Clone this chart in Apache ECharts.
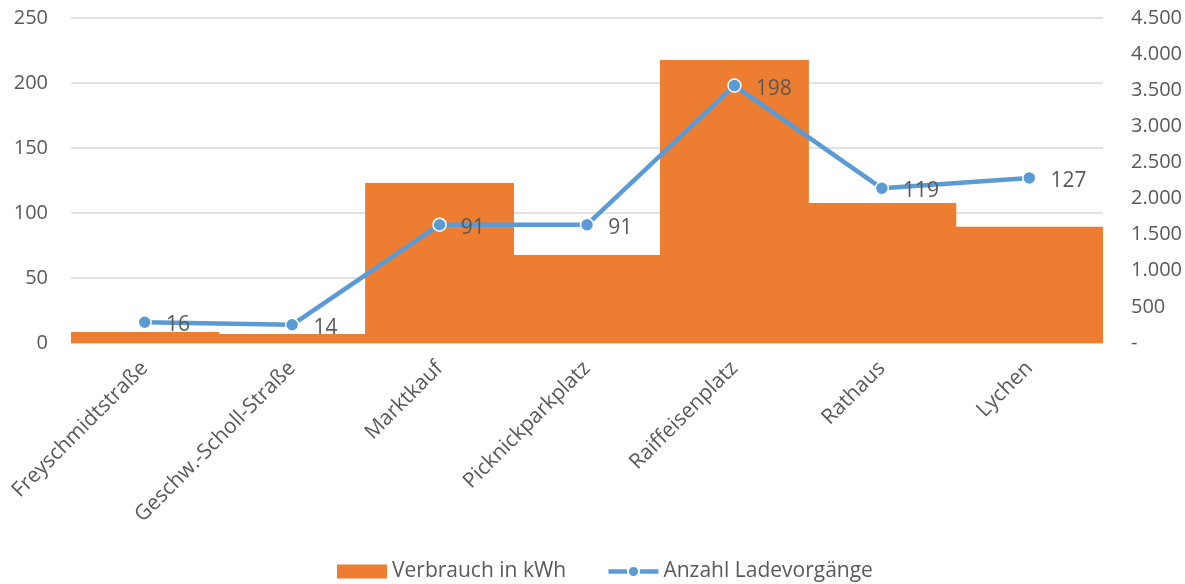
<!DOCTYPE html>
<html>
<head>
<meta charset="utf-8">
<script src="https://cdn.jsdelivr.net/npm/echarts@6/dist/echarts.min.js"></script>
<style>
html, body { margin: 0; padding: 0; background: #fff; }
#chart { width: 1185px; height: 584px; }
</style>
</head>
<body>
<div id="chart"></div>
<script>
// Standorte
const categories = ['Freyschmidtstraße', 'Geschw.-Scholl-Straße', 'Marktkauf', 'Picknickparkplatz', 'Raiffeisenplatz', 'Rathaus', 'Lychen']
// Verbrauch in kWh (rechte Achse)
const verbrauch = [152, 125, 2215, 1218, 3918, 1938, 1611]
// Anzahl Ladevorgänge (linke Achse)
const ladevorgaenge = [16, 14, 91, 91, 198, 119, 127]

const textColor = '#595959'
const fontFamily = '"Open Sans", "Noto Sans", sans-serif'

const myChart = echarts.init(document.getElementById('chart'))

const option = {
    animation: false,
    textStyle: { fontFamily: fontFamily },
    grid: {
        left: 71,
        right: 82,
        top: 18,
        bottom: 241
    },
    legend: {
        top: 561,
        left: 337,
        padding: 0,
        itemGap: 40,
        itemWidth: 50,
        itemHeight: 14,
        textStyle: { color: textColor, fontSize: 21, fontFamily: fontFamily },
        data: [
            { name: 'Verbrauch in kWh', icon: 'rect' },
            { name: 'Anzahl Ladevorgänge', lineStyle: { width: 4.5 } }
        ]
    },
    xAxis: {
        type: 'category',
        data: categories,
        axisTick: { show: false },
        axisLine: { lineStyle: { color: '#d9d9d9', width: 1 } },
        axisLabel: {
            interval: 0,
            rotate: 45,
            margin: 22,
            color: textColor,
            fontSize: 21
        }
    },
    yAxis: [
        {
            type: 'value',
            min: 0,
            max: 250,
            interval: 50,
            axisLine: { show: false },
            axisTick: { show: false },
            splitLine: { lineStyle: { color: '#d9d9d9', width: 1.5 } },
            axisLabel: { color: textColor, fontSize: 20, margin: 23 }
        },
        {
            type: 'value',
            min: 0,
            max: 4500,
            interval: 500,
            position: 'right',
            axisLine: { show: false },
            axisTick: { show: false },
            splitLine: { show: false },
            axisLabel: {
                color: textColor,
                fontSize: 20,
                margin: 28,
                formatter: function (v) {
                    if (v === 0) return '-'
                    return String(v).replace(/\B(?=(\d{3})+(?!\d))/g, '.')
                }
            }
        }
    ],
    series: [
        {
            name: 'Verbrauch in kWh',
            type: 'bar',
            yAxisIndex: 1,
            data: verbrauch,
            barWidth: '101%',
            barCategoryGap: 0,
            itemStyle: { color: '#ed7d31' }
        },
        {
            name: 'Anzahl Ladevorgänge',
            type: 'line',
            yAxisIndex: 0,
            data: ladevorgaenge,
            symbol: 'circle',
            symbolSize: 13,
            lineStyle: { color: '#5b9bd5', width: 4.5 },
            itemStyle: { color: '#5b9bd5', borderColor: '#ffffff', borderWidth: 1.5 },
            label: {
                show: true,
                position: 'right',
                distance: 14,
                offset: [0, 3],
                color: textColor,
                fontSize: 21
            }
        }
    ]
}

option && myChart.setOption(option)
</script>
</body>
</html>
